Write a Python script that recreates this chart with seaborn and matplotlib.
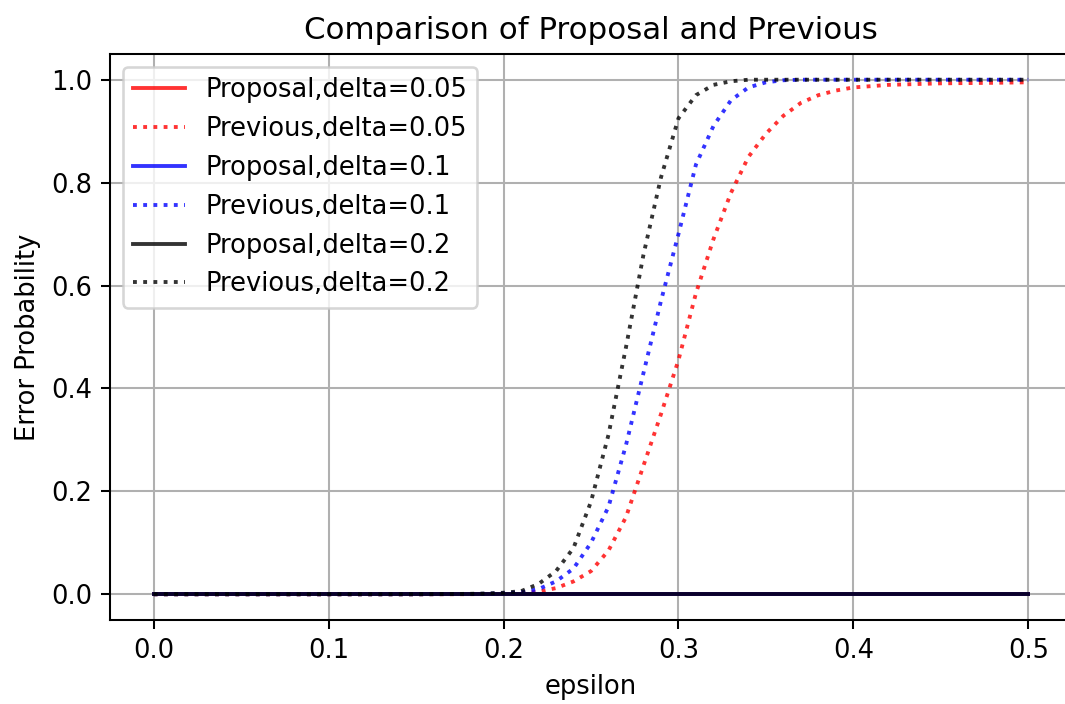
import matplotlib
matplotlib.use("Agg")
import matplotlib.pyplot as plt
import seaborn as sns
import pandas as pd

epsilon = [0.00, 0.05, 0.10, 0.15, 0.18, 0.19, 0.20, 0.21, 0.22, 0.23, 0.24, 0.25,
           0.26, 0.27, 0.28, 0.29, 0.30, 0.31, 0.32, 0.33, 0.34, 0.35, 0.36,
           0.37, 0.38, 0.39, 0.40, 0.42, 0.45, 0.48, 0.50]

prop_005 = [0.0, 0.0, 0.0, 0.0, 0.0, 0.0, 0.0, 0.0, 0.0, 0.0, 0.0, 0.0,
            0.0, 0.0, 0.0, 0.0, 0.0, 0.0, 0.0, 0.0, 0.0, 0.0, 0.0,
            0.0, 0.0, 0.0, 0.0, 0.0, 0.0, 0.0, 0.0]
prev_005 = [0.0, 0.0, 0.0, 0.0, 0.0002, 0.0005, 0.001, 0.002, 0.005, 0.012, 0.025, 0.045,
            0.085, 0.15, 0.25, 0.35, 0.455, 0.585, 0.69, 0.78, 0.85, 0.895, 0.93,
            0.955, 0.97, 0.979, 0.985, 0.99, 0.993, 0.994, 0.995]
prop_01 = [0.0, 0.0, 0.0, 0.0, 0.0, 0.0, 0.0, 0.0, 0.0, 0.0, 0.0, 0.0,
           0.0, 0.0, 0.0, 0.0, 0.0, 0.0, 0.0, 0.0, 0.0, 0.0, 0.0,
           0.0, 0.0, 0.0, 0.0, 0.0, 0.0, 0.0, 0.0]
prev_01 = [0.0, 0.0, 0.0, 0.0, 0.0005, 0.001, 0.002, 0.004, 0.01, 0.025, 0.05, 0.10,
           0.17, 0.29, 0.43, 0.57, 0.70, 0.835, 0.91, 0.96, 0.985, 0.995, 0.999,
           1.0, 1.0, 1.0, 1.0, 1.0, 1.0, 1.0, 1.0]
prop_02 = [0.0, 0.0, 0.0, 0.0, 0.0, 0.0, 0.0, 0.0, 0.0, 0.0, 0.0, 0.0,
           0.0, 0.0, 0.0, 0.0, 0.0, 0.0, 0.0, 0.0, 0.0, 0.0, 0.0,
           0.0, 0.0, 0.0, 0.0, 0.0, 0.0, 0.0, 0.0]
prev_02 = [0.0, 0.0, 0.0, 0.0, 0.0008, 0.0015, 0.003, 0.006, 0.02, 0.045, 0.09, 0.18,
           0.31, 0.48, 0.66, 0.81, 0.925, 0.97, 0.99, 0.997, 1.0, 1.0, 1.0,
           1.0, 1.0, 1.0, 1.0, 1.0, 1.0, 1.0, 1.0]

series = [
    ("Proposal,delta=0.05", prop_005, "red", "-"),
    ("Previous,delta=0.05", prev_005, "red", ":"),
    ("Proposal,delta=0.1", prop_01, "blue", "-"),
    ("Previous,delta=0.1", prev_01, "blue", ":"),
    ("Proposal,delta=0.2", prop_02, "black", "-"),
    ("Previous,delta=0.2", prev_02, "black", ":"),
]

DPI = 185
fig, ax = plt.subplots(figsize=(1065 / DPI, 704 / DPI), dpi=DPI)
fig.subplots_adjust(left=110 / 1065, right=1072 / 1065, bottom=1 - 620 / 704, top=1 - 54 / 704)

for label, vals, color, ls in series:
    df = pd.DataFrame({"epsilon": epsilon, "p": vals})
    sns.lineplot(data=df, x="epsilon", y="p", color=color, linestyle=ls,
                 alpha=0.8, linewidth=1.5, label=label, ax=ax)

ax.grid(True)
ax.set_title("Comparison of Proposal and Previous")
ax.set_xlabel("epsilon")
ax.set_ylabel("Error Probability")
ax.legend(loc="upper left")

fig.savefig("out.png", dpi=DPI)
